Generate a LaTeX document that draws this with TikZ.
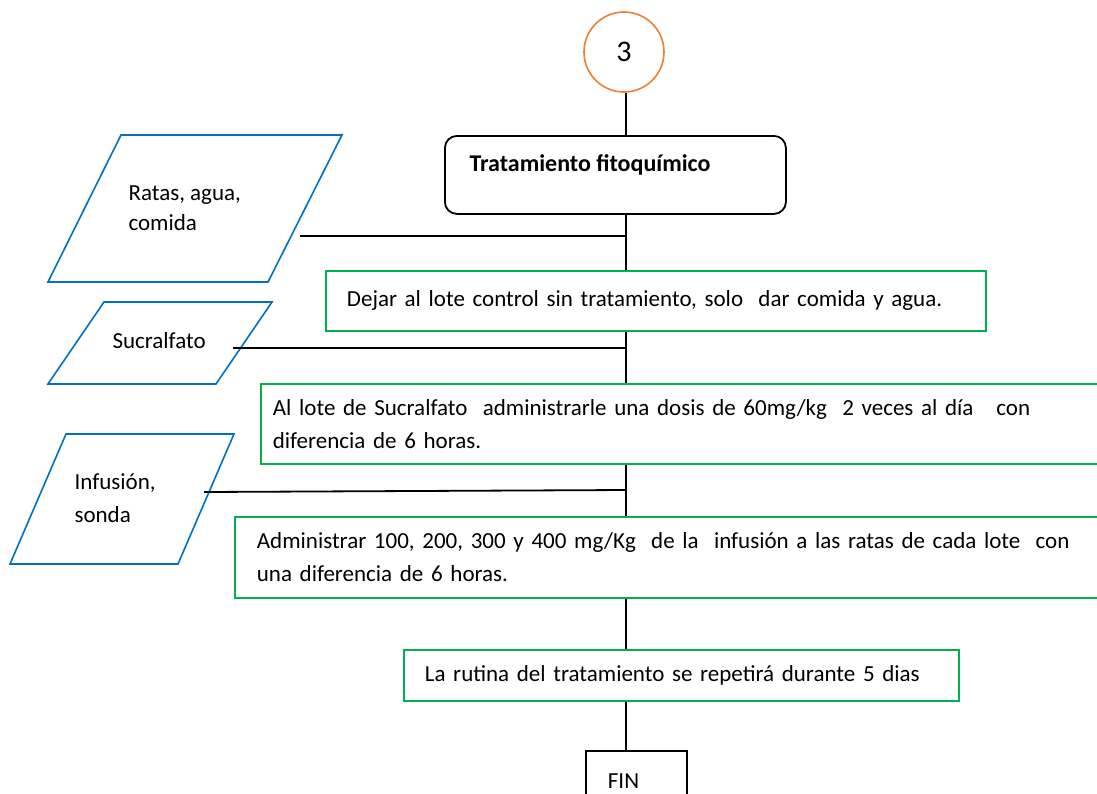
\documentclass[tikz,border=0pt]{standalone}
\usepackage{fontspec}
\setmainfont{Carlito}
\definecolor{stepgreen}{RGB}{0,176,80}
\definecolor{inblue}{RGB}{0,112,192}
\definecolor{conorange}{RGB}{237,125,49}
\begin{document}
\begin{tikzpicture}[x=1pt,y=-1pt,
  txt/.style={font=\fontsize{23}{33}\selectfont},
  link/.style={draw=black,line width=1.8pt},
  connector/.style={circle,draw=conorange,line width=1.6pt,minimum size=80pt,inner sep=0pt,
    font=\fontsize{30}{34}\selectfont},
  titlebox/.style={rectangle,rounded corners=12pt,draw=black,line width=1.8pt,
    anchor=north west,minimum width=341pt,minimum height=78pt,inner sep=0pt},
  stepbox/.style={rectangle,draw=stepgreen,line width=1.8pt,anchor=north west,
    inner ysep=0pt,align=left,txt},
  inputshape/.style={draw=inblue,line width=1.6pt,line join=miter},
  endbox/.style={rectangle,draw=black,line width=1.8pt,anchor=north west,
    minimum width=101pt,minimum height=60pt,inner ysep=0pt,inner xsep=22pt,
    text width=57pt,align=left,txt}]
\useasboundingbox (0,0) rectangle (1097,793);
\clip (0,0) rectangle (1097,793);
\coordinate (spine) at (626,0);

% connector and title
\node[connector] (c3) at (624,52) {3};
\node[titlebox] (tf) at (444,135) {};
\node[anchor=west,font=\fontsize{24}{28}\selectfont\bfseries] (tftext) at (466,165) {Tratamiento fitoquímico};

% process steps
\node[stepbox,minimum width=660pt,minimum height=60pt,inner xsep=21pt,text width=618pt]
  (s1) at (325,270) {Dejar al lote control sin tratamiento, solo\ \ dar comida y agua.};
\node[stepbox,minimum width=870pt,minimum height=80pt,inner xsep=12pt,text width=846pt]
  (s2) at (260,383) {Al lote de Sucralfato\ \ administrarle una dosis de 60mg/kg\ \ 2 veces al día\ \ \ con\\diferencia de 6 horas.};
\node[stepbox,minimum width=900pt,minimum height=81pt,inner xsep=22pt,text width=856pt]
  (s3) at (234,516) {Administrar 100, 200, 300 y 400 mg/Kg\ \ de la\ \ infusión a las ratas de cada lote\ \ con\\una diferencia de 6 horas.};
\node[stepbox,minimum width=555pt,minimum height=51pt,inner xsep=21pt,text width=513pt]
  (s4) at (403,649) {La rutina del tratamiento se repetirá durante 5 dias};
\node[endbox] (fin) at (585,750) {FIN};

% inputs
\draw[inputshape] (121,135) -- (342,135) -- (268,282) -- (48,282) -- cycle;
\node[anchor=west,align=left,font=\fontsize{23}{30}\selectfont] (in1) at (125,208) {Ratas, agua,\\comida};
\draw[inputshape] (104,302) -- (272,302) -- (216,384) -- (48,384) -- cycle;
\node[anchor=west,txt] (in2) at (109,341) {Sucralfato};
\draw[inputshape] (66,434) -- (234,434) -- (178,564) -- (10,564) -- cycle;
\node[anchor=west,align=left,txt] (in3) at (71,498) {Infusión,\\sonda};

% main flow
\draw[link] (c3.south -| spine) -- (tf.north -| spine);
\draw[link] (tf.south -| spine) -- (s1.north -| spine);
\draw[link] (s1.south -| spine) -- (s2.north -| spine);
\draw[link] (s2.south -| spine) -- (s3.north -| spine);
\draw[link] (s3.south -| spine) -- (s4.north -| spine);
\draw[link] (s4.south -| spine) -- (fin.north -| spine);

% input links
\coordinate (r1) at (300,236);
\coordinate (j1) at (626,236);
\coordinate (r2) at (233,348);
\coordinate (j2) at (626,348);
\coordinate (r3) at (204,492);
\coordinate (j3) at (626,490);
\draw[link] (r1) -- (j1);
\draw[link] (r2) -- (j2);
\draw[link] (r3) -- (j3);
\end{tikzpicture}
\end{document}
